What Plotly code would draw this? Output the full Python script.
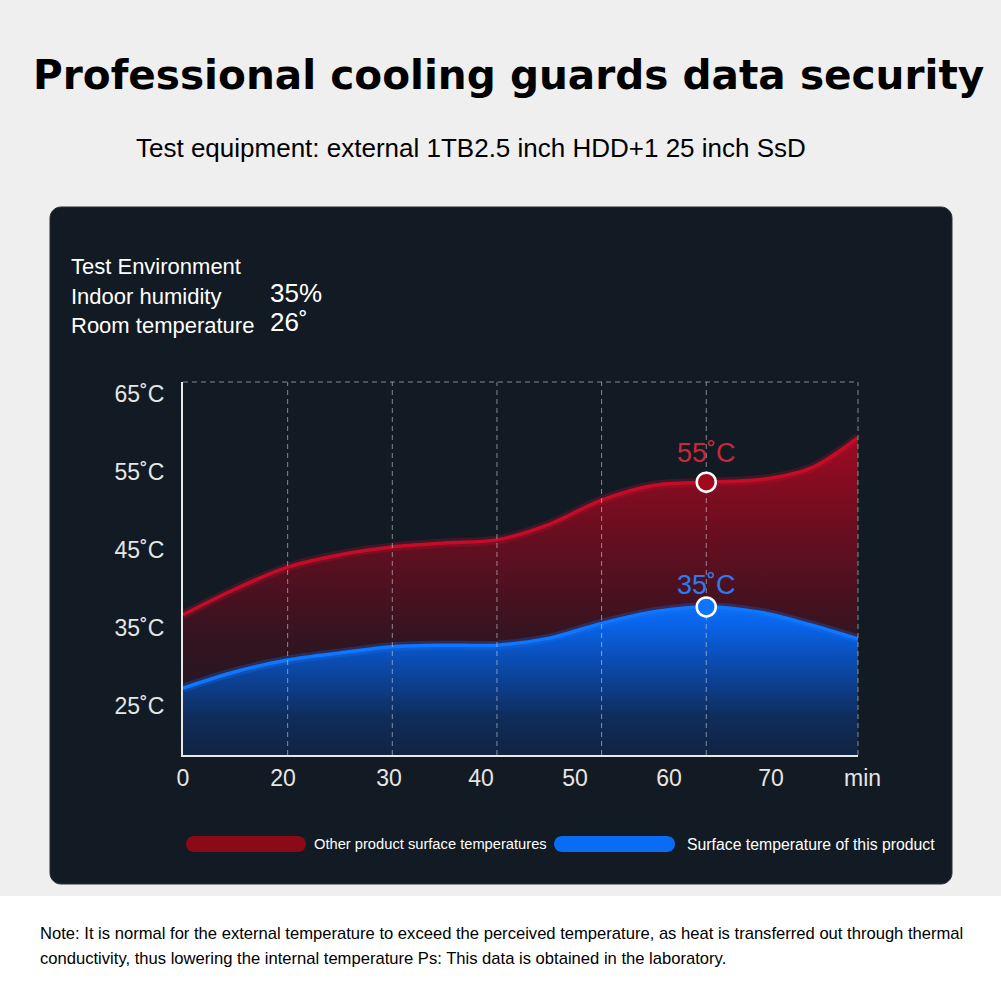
import plotly.graph_objects as go

W = H = 1001

# ── Données ───────────────────────────────────────────────────────────────────
X_POS = [0, 5, 10, 15, 20, 25, 30, 35, 40, 45, 50, 55, 60, 64.5]
RED = [36.7, 40.0, 42.8, 44.4, 45.4, 45.9, 46.3, 48.3, 51.4, 53.3, 53.7, 54.0, 55.5, 59.4]
BLUE = [27.3, 29.4, 30.9, 31.8, 32.6, 32.8, 32.8, 33.7, 35.6, 37.1, 37.7, 37.05, 35.4, 33.6]

MARK_X = 50
MARK_LABELS = ["55˚C", "35˚C"]

X_TICK_POS = [0, 9.56, 19.68, 28.48, 37.46, 46.44, 56.19]
X_TICK_TEXT = ["0", "20", "30", "40", "50", "60", "70"]
Y_TICK_VALS = [25, 35, 45, 55, 65]
Y_TICK_TEXT = [f"{v}˚C" for v in Y_TICK_VALS]
GRID_X = [10, 20, 30, 40, 50]

SERIES_NAMES = ["Other product surface temperatures", "Surface temperature of this product"]

X_RANGE = [0, 64.5]
Y_RANGE = [18.72, 66.54]

RED_C = "#c40c28"
BLUE_C = "#0f76ff"
PANEL = "#121a23"
FONT = "Liberation Sans"
DASH_C = "rgba(205,210,216,0.6)"


def px(x):
    return x / W


def py(y):
    return 1 - y / H


def _round_rect(x0, y0, x1, y1, r):
    """Chemin SVG (coord. papier) d'un rectangle arrondi, donné en pixels."""
    k = 0.5523 * r
    pts = [
        ("M", [(x0 + r, y0)]),
        ("L", [(x1 - r, y0)]),
        ("C", [(x1 - r + k, y0), (x1, y0 + r - k), (x1, y0 + r)]),
        ("L", [(x1, y1 - r)]),
        ("C", [(x1, y1 - r + k), (x1 - r + k, y1), (x1 - r, y1)]),
        ("L", [(x0 + r, y1)]),
        ("C", [(x0 + r - k, y1), (x0, y1 - r + k), (x0, y1 - r)]),
        ("L", [(x0, y0 + r)]),
        ("C", [(x0, y0 + r - k), (x0 + r - k, y0), (x0 + r, y0)]),
    ]
    s = ""
    for cmd, ps in pts:
        s += cmd + " " + " ".join(f"{px(a):.5f},{py(b):.5f}" for a, b in ps) + " "
    return s + "Z"


fig = go.Figure()

# ── Aires ─────────────────────────────────────────────────────────────────────
fig.add_trace(go.Scatter(
    x=X_POS, y=RED, mode="lines",
    line=dict(width=0, shape="spline", smoothing=0.9),
    fill="tozeroy",
    fillgradient=dict(
        type="vertical", start=Y_RANGE[0], stop=60,
        colorscale=[[0, "#171923"], [0.36, "#331420"], [0.5, "#4a1120"],
                    [0.7, "#6a0e1f"], [0.88, "#8a0c21"], [1, "#a00a22"]],
    ),
    hoverinfo="skip", showlegend=False,
))
fig.add_trace(go.Scatter(
    x=X_POS, y=BLUE, mode="lines",
    line=dict(width=0, shape="spline", smoothing=0.9),
    fill="tozeroy",
    fillgradient=dict(
        type="vertical", start=Y_RANGE[0], stop=38,
        colorscale=[[0, "#112442"], [0.25, "#0f2c5a"], [0.6, "#0b4aac"],
                    [0.85, "#0a62e6"], [1, "#0a70fa"]],
    ),
    hoverinfo="skip", showlegend=False,
))

# ── Courbes (halo + trait) ────────────────────────────────────────────────────
for ys, c, glow in [(RED, RED_C, "rgba(200,16,46,0.25)"),
                    (BLUE, BLUE_C, "rgba(15,118,255,0.25)")]:
    fig.add_trace(go.Scatter(
        x=X_POS, y=ys, mode="lines",
        line=dict(color=glow, width=9, shape="spline", smoothing=0.9),
        hoverinfo="skip", showlegend=False,
    ))
    fig.add_trace(go.Scatter(
        x=X_POS, y=ys, mode="lines",
        line=dict(color=c, width=3.5, shape="spline", smoothing=0.9),
        hoverinfo="skip", showlegend=False,
    ))

# ── Grille pointillée (au-dessus des aires, sous les marqueurs) ───────────────
gx, gy = [], []
for g in GRID_X:
    gx += [g, g, None]
    gy += [Y_RANGE[0], Y_RANGE[1], None]
fig.add_trace(go.Scatter(
    x=gx, y=gy, mode="lines",
    line=dict(color=DASH_C, width=1, dash="5px,4px"),
    hoverinfo="skip", showlegend=False,
))

# ── Marqueurs ─────────────────────────────────────────────────────────────────
i = X_POS.index(MARK_X)
for ys, fillc, txtc, lab, shift in [(RED, "#a00a1c", "#c9283b", MARK_LABELS[0], 29),
                                    (BLUE, "#0f74ff", "#2a7cf5", MARK_LABELS[1], 22)]:
    fig.add_trace(go.Scatter(
        x=[MARK_X], y=[ys[i]], mode="markers",
        marker=dict(size=19, color=fillc, line=dict(color="white", width=2.5)),
        hoverinfo="skip", showlegend=False,
    ))
    fig.add_annotation(x=MARK_X, y=ys[i], xref="x", yref="y", text=lab,
                       showarrow=False, yshift=shift,
                       font=dict(family=FONT, size=27, color=txtc))

# ── Axes ──────────────────────────────────────────────────────────────────────
fig.update_layout(
    width=W, height=H,
    margin=dict(l=0, r=0, t=0, b=0, autoexpand=False),
    paper_bgcolor="white",
    plot_bgcolor=PANEL,
    showlegend=False,
    xaxis=dict(
        domain=[px(183), px(858)], range=X_RANGE, fixedrange=True,
        automargin=False,
        showline=True, linecolor="#e8e8e8", linewidth=2,
        showgrid=False, zeroline=False,
        tickmode="array", tickvals=X_TICK_POS, ticktext=X_TICK_TEXT,
        ticks="", ticklabelstandoff=1,
        tickfont=dict(family=FONT, size=23, color="#e6e6e6"),
    ),
    yaxis=dict(
        domain=[py(755), py(382)], range=Y_RANGE, fixedrange=True,
        automargin=False,
        showline=True, linecolor="#e8e8e8", linewidth=2,
        showgrid=False, zeroline=False,
        tickmode="array", tickvals=Y_TICK_VALS, ticktext=Y_TICK_TEXT,
        ticks="outside", ticklen=4, tickcolor="rgba(0,0,0,0)",
        ticklabelstandoff=8,
        tickfont=dict(family=FONT, size=23, color="#e6e6e6"),
    ),
)

# ── Fonds ─────────────────────────────────────────────────────────────────────
fig.add_shape(type="rect", xref="paper", yref="paper",
              x0=0, x1=1, y0=py(896), y1=1,
              fillcolor="#efefef", line_width=0, layer="below")
fig.add_shape(type="path", xref="paper", yref="paper",
              path=_round_rect(50, 207, 952, 884, 11),
              fillcolor=PANEL, line=dict(color="#2a2f36", width=1), layer="below")

# cadre pointillé haut / droite
dash = dict(color=DASH_C, width=1, dash="5px,4px")
fig.add_shape(type="line", xref="x domain", yref="y domain",
              x0=0, x1=1, y0=1, y1=1, line=dash)
fig.add_shape(type="line", xref="x domain", yref="y domain",
              x0=1, x1=1, y0=0, y1=1, line=dash)

# ── Légende (pastilles) ───────────────────────────────────────────────────────
for (x0, x1), c in [((186, 306), "#8c0a16"), ((554, 675), "#0a6cf5")]:
    fig.add_shape(type="path", xref="paper", yref="paper",
                  path=_round_rect(x0, 836, x1, 852, 8),
                  fillcolor=c, line_width=0)
for x, name, sz in [(312, SERIES_NAMES[0], 14.7), (685, SERIES_NAMES[1], 15.8)]:
    fig.add_annotation(x=px(x), y=py(844), xref="paper", yref="paper",
                       text=name, showarrow=False, xanchor="left", yanchor="middle",
                       font=dict(family=FONT, size=sz, color="white"))

# ── Textes ────────────────────────────────────────────────────────────────────
fig.add_annotation(x=px(862), y=py(778), xref="paper", yref="paper",
                   text="min", showarrow=False, xanchor="center", yanchor="middle",
                   font=dict(family=FONT, size=23, color="#e6e6e6"))

fig.add_annotation(x=px(508), y=py(75), xref="paper", yref="paper",
                   text="<b>Professional cooling guards data security</b>",
                   showarrow=False, xanchor="center", yanchor="middle",
                   font=dict(family="DejaVu Sans", size=40.6, color="black"))
fig.add_annotation(x=px(134), y=py(148), xref="paper", yref="paper",
                   text="Test equipment: external 1TB2.5 inch HDD+1 25 inch SsD",
                   showarrow=False, xanchor="left", yanchor="middle",
                   font=dict(family=FONT, size=26, color="black"))

env = [("Test Environment", None, 267), ("Indoor humidity", "35%", 296),
       ("Room temperature", "26˚", 325)]
for lab, val, y in env:
    fig.add_annotation(x=px(69), y=py(y), xref="paper", yref="paper",
                       text=lab, showarrow=False, xanchor="left", yanchor="middle",
                       font=dict(family=FONT, size=22, color="white"))
    if val:
        fig.add_annotation(x=px(268), y=py(y - 3), xref="paper", yref="paper",
                           text=val, showarrow=False, xanchor="left", yanchor="middle",
                           font=dict(family=FONT, size=26, color="white"))

notes = ["Note: It is normal for the external temperature to exceed the perceived "
         "temperature, as heat is transferred out through thermal",
         "conductivity, thus lowering the internal temperature Ps: This data is "
         "obtained in the laboratory."]
for k, t in enumerate(notes):
    fig.add_annotation(x=px(38), y=py(933 + 25 * k), xref="paper", yref="paper",
                       text=t, showarrow=False, xanchor="left", yanchor="middle",
                       font=dict(family=FONT, size=16.6, color="black"))

fig.write_html("out.html", config={"displayModeBar": False},
               post_script="document.body.style.margin='0';")
